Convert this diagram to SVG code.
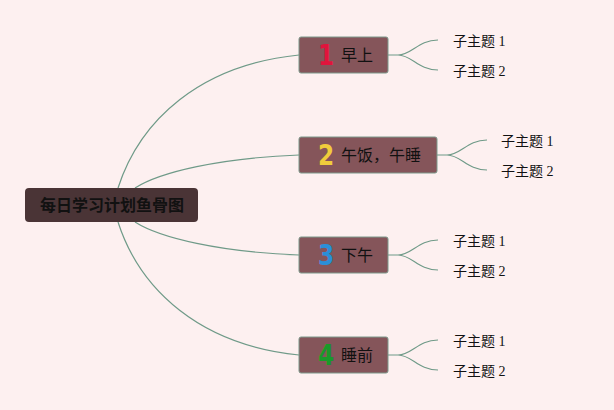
<svg xmlns="http://www.w3.org/2000/svg" width="614" height="410" viewBox="0 0 614 410">
<style>
.bg{fill:#fdf0f0}
.ln{fill:none;stroke:#6f9a88;stroke-width:1.2}
.topic{fill:#85555a;stroke:#7c9a8c;stroke-width:1}
.num{font-family:"DejaVu Sans","Noto Sans",sans-serif;font-weight:bold;font-size:29px;text-anchor:middle}
.tt{font-family:"Noto Sans CJK SC",sans-serif;font-size:16px;fill:#111}
.sub{font-family:"Liberation Serif","Noto Sans CJK SC",serif;font-size:14px;fill:#111}
.root{font-family:"Noto Sans CJK SC",sans-serif;font-size:16px;font-weight:bold;fill:#111;text-anchor:middle}
</style>
<rect class="bg" x="0" y="0" width="614" height="410"/>
<g id="connectors">
<path class="ln" d="M118,188 C140,120 200,65 299,55"/>
<path class="ln" d="M135,188 C160,172 220,158 299,155"/>
<path class="ln" d="M135,222 C160,238 220,252 299,255"/>
<path class="ln" d="M118,222 C140,290 200,345 299,355"/>
<path class="ln" d="M388,55 L398,55 C412,55 418,40 438,40 M398,55 C412,55 418,70 438,70"/>
<path class="ln" d="M437,155 L447,155 C461,155 467,140 487,140 M447,155 C461,155 467,170 487,170"/>
<path class="ln" d="M388,255 L398,255 C412,255 418,240 438,240 M398,255 C412,255 418,270 438,270"/>
<path class="ln" d="M388,355 L398,355 C412,355 418,340 438,340 M398,355 C412,355 418,370 438,370"/>
</g>
<g id="root">
<rect x="25" y="188" width="173" height="34" rx="4" fill="#4a3436"/>
<text class="root" x="112" y="211">每日学习计划鱼骨图</text>
</g>
<g id="t1">
<rect class="topic" x="299" y="37" width="89" height="36" rx="2"/>
<text class="num" transform="translate(326,65) scale(0.8,1)" fill="#e0143c">1</text>
<text class="tt" x="341" y="61">早上</text>
</g>
<g id="t2">
<rect class="topic" x="299" y="137" width="138" height="36" rx="2"/>
<text class="num" transform="translate(326,165) scale(0.8,1)" fill="#f0cc3c">2</text>
<text class="tt" x="341" y="161">午饭，午睡</text>
</g>
<g id="t3">
<rect class="topic" x="299" y="237" width="89" height="36" rx="2"/>
<text class="num" transform="translate(326,265) scale(0.8,1)" fill="#2a8fd8">3</text>
<text class="tt" x="341" y="261">下午</text>
</g>
<g id="t4">
<rect class="topic" x="299" y="337" width="89" height="36" rx="2"/>
<text class="num" transform="translate(326,365) scale(0.8,1)" fill="#1a9a2a">4</text>
<text class="tt" x="341" y="361">睡前</text>
</g>
<g id="s1a"><text class="sub" x="453" y="46">子主题 1</text></g>
<g id="s1b"><text class="sub" x="453" y="76">子主题 2</text></g>
<g id="s2a"><text class="sub" x="501" y="146">子主题 1</text></g>
<g id="s2b"><text class="sub" x="501" y="176">子主题 2</text></g>
<g id="s3a"><text class="sub" x="453" y="246">子主题 1</text></g>
<g id="s3b"><text class="sub" x="453" y="276">子主题 2</text></g>
<g id="s4a"><text class="sub" x="453" y="346">子主题 1</text></g>
<g id="s4b"><text class="sub" x="453" y="376">子主题 2</text></g>
</svg>
